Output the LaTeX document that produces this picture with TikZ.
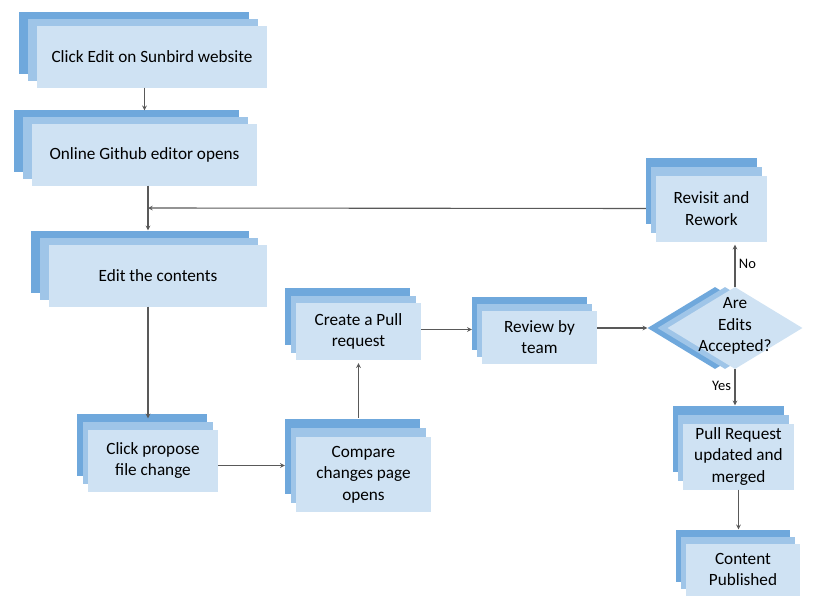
\documentclass[tikz,border=0pt]{standalone}
\usepackage{fontspec}
\setmainfont{Carlito}
\usepackage{xcolor}
\usepackage{tikz}
\usetikzlibrary{shapes.geometric, arrows, shadows, calc, positioning}

\definecolor{stackdark}{HTML}{6FA8DC}
\definecolor{stackmid}{HTML}{9FC5E8}
\definecolor{stackfront}{HTML}{CFE2F3}
\definecolor{linegrey}{HTML}{595959}

\begin{document}
\begin{tikzpicture}[x=1pt, y=-1pt, font=\fontsize{17.2}{21.5}\selectfont,
		arrow/.style = {line width=1.1pt, draw=linegrey, -stealth}]
		\tikzset{stack/.style args={#1/#2}{fill=stackfront, inner sep=0pt, align=center,
				general shadow={fill=stackdark, shadow xshift=-#1pt, shadow yshift=#2pt},
				general shadow={fill=stackmid, shadow xshift=-0.5*#1pt, shadow yshift=0.5*#2pt}}}
		\tikzset{stepbox/.style={rectangle, stack=#1}, stepbox/.default=11/16}
		\tikzset{answer/.style={font=\fontsize{14.5}{16}\selectfont}}
		\useasboundingbox (0,0) rectangle (832,602);

		\node[stepbox=18/14, minimum width=230pt, minimum height=61pt] (sunbird) at (152,57) {Click Edit on Sunbird website};
		\node[stepbox=18/14, minimum width=225pt, minimum height=62pt] (github) at (144.5,154.5) {Online Github editor opens};
		\node[stepbox=18/14, minimum width=218pt, minimum height=62pt] (edit) at (158,275.5) {Edit the contents};
		\node[stepbox, minimum width=130pt, minimum height=62pt] (propose) at (153,460.5) {Click propose\\file change};
		\node[stepbox=11/18, minimum width=135pt, minimum height=75pt] (compare) at (363.5,474.5) {Compare\\changes page\\opens};
		\node[stepbox=11/15, minimum width=125pt, minimum height=57pt] (create) at (358.5,331.5) {Create a Pull\\request};
		\node[stepbox=10/14, minimum width=115pt, minimum height=53pt] (review) at (539.5,337) {Review by\\team};
		\node[diamond, stack=20/0, minimum width=135pt, minimum height=82pt,
			label={[align=center, yshift=2pt]center:Are\\Edits\\Accepted?}] (accepted) at (735,328) {};
		\node[stepbox=10/18, minimum width=111pt, minimum height=66pt] (revisit) at (711.5,208.5) {Revisit and\\Rework};
		\node[stepbox=10/18, minimum width=111pt, minimum height=66pt] (pullreq) at (738.5,456.5) {Pull Request\\updated and\\merged};
		\node[stepbox=10/14, minimum width=114pt, minimum height=52pt] (content) at (743,569.5) {Content\\Published};

		\coordinate (join) at (148,208);

		\draw [arrow, shorten >=13pt] (sunbird.south -| github.north) -- (github.north);
		\draw [arrow, shorten >=14pt] (github.south -| join) -- (edit.north -| join);
		\draw [arrow, shorten <=10pt] (revisit.west) -- (join);
		\draw [arrow, shorten >=11pt] (edit.south -| join) -- (propose.north -| join);
		\draw [arrow, shorten >=11pt] ([yshift=-5pt]propose.east) -- ([yshift=-5pt]propose.east -| compare.west);
		\draw [arrow, shorten <=19pt, shorten >=3pt] (create.south |- compare.north) -- (create.south);
		\draw [arrow, shorten >=10pt] ([yshift=2pt]create.east) -- ([yshift=2pt]create.east -| review.west);
		\draw [arrow, shorten >=20pt] (review.east |- accepted.west) -- (accepted.west);
		\draw [arrow, shorten >=3pt] (accepted.north) -- node [answer, right] {No} (accepted.north |- revisit.south);
		\draw [arrow, shorten >=18pt] (accepted.south) -- node [answer, left, pos=0.3] {Yes} (accepted.south |- pullreq.north);
		\draw [arrow, shorten >=14pt] (pullreq.south) -- (pullreq.south |- content.north);

	\end{tikzpicture}
\end{document}
